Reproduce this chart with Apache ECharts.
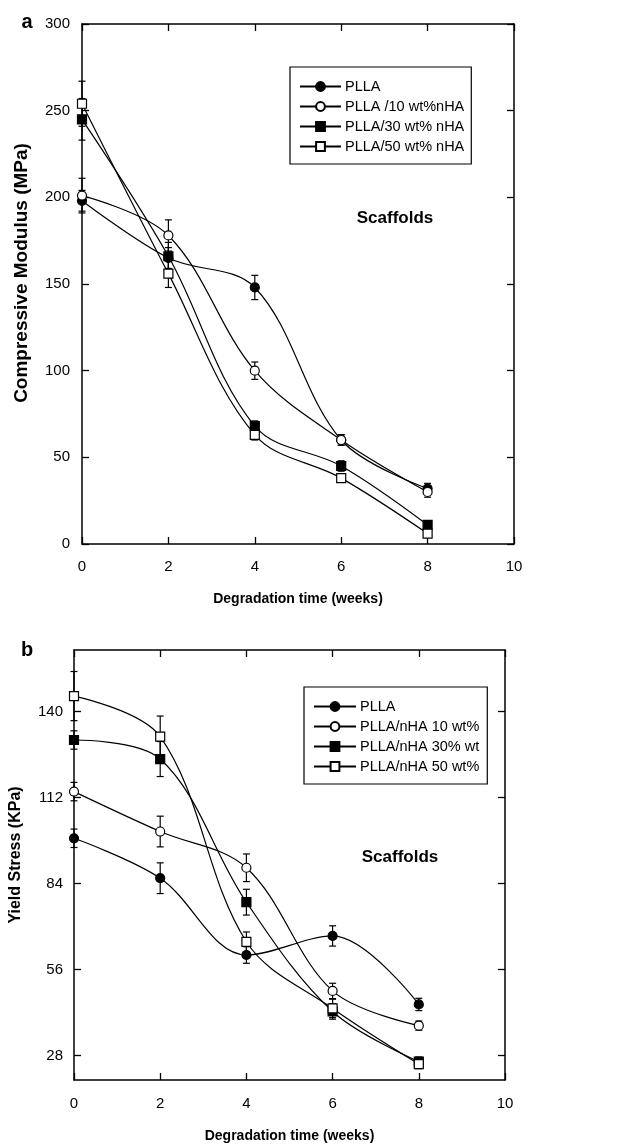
<!DOCTYPE html>
<html>
<head>
<meta charset="utf-8">
<script src="https://cdn.jsdelivr.net/npm/echarts@6/dist/echarts.min.js"></script>
<style>
html,body{margin:0;padding:0;background:#fff;}
#chart{width:630px;height:1144px;}
</style>
</head>
<body>
<div id="chart"></div>
<script>
// ---------- data ----------
const weeks = [0, 2, 4, 6, 8];
const xTicks = [0, 2, 4, 6, 8, 10];

// Panel a: compressive modulus (MPa)
const namesA = ['PLLA', 'PLLA /10 wt%nHA', 'PLLA/30 wt% nHA', 'PLLA/50 wt% nHA'];
const modPLLA   = [198, 165, 148, 60, 32];
const modPLLA10 = [201, 178, 100, 60, 30];
const modPLLA30 = [245, 166, 68, 45, 11];
const modPLLA50 = [254, 156, 63, 38, 6];
const modErrPLLA   = [6, 6, 7, 3, 3];
const modErrPLLA10 = [10, 9, 5, 3, 3];
const modErrPLLA30 = [12, 8, 3, 3, 2];
const modErrPLLA50 = [13, 8, 3, 2, 2];
const modTicks = [0, 50, 100, 150, 200, 250, 300];

// Panel b: yield stress (KPa)
const namesB = ['PLLA', 'PLLA/nHA 10 wt%', 'PLLA/nHA 30% wt', 'PLLA/nHA 50 wt%'];
const ysPLLA   = [98.7, 85.7, 60.7, 66.9, 44.6];
const ysPLLA10 = [113.9, 100.9, 89.1, 49, 37.7];
const ysPLLA30 = [130.7, 124.5, 77.9, 42.3, 26];
const ysPLLA50 = [145, 131.8, 65, 43.3, 25.2];
const ysErrPLLA   = [3, 5, 2.7, 3.3, 2];
const ysErrPLLA10 = [3, 5, 4.5, 2.5, 1.5];
const ysErrPLLA30 = [3, 5.7, 4.2, 2.5, 1.5];
const ysErrPLLA50 = [8, 6.7, 3.2, 3, 1.5];
const ysTicks = [28, 56, 84, 112, 140];

// ---------- styles ----------
const FONT = '"Liberation Sans", Arial, sans-serif';
const markerStyles = [
  {symbol: 'circle', fill: '#000', size: 9},
  {symbol: 'circle', fill: '#fff', size: 9},
  {symbol: 'rect', fill: '#000', size: 9},
  {symbol: 'rect', fill: '#fff', size: 9}
];

function lineSeries(name, vals, idx, k) {
  const m = markerStyles[k];
  return {
    type: 'line', name: name, xAxisIndex: idx * 2, yAxisIndex: idx * 2,
    data: weeks.map((w, i) => [w, vals[i]]),
    smooth: 0.35, symbol: m.symbol, symbolSize: m.size, showSymbol: true,
    lineStyle: {color: '#000', width: 1.2},
    itemStyle: {color: m.fill, borderColor: '#000', borderWidth: 1.2},
    z: 3, silent: true
  };
}

function errRender(params, api) {
  const x = api.value(0), y = api.value(1), e = api.value(2);
  const t = api.coord([x, y + e]);
  const b = api.coord([x, y - e]);
  const hw = 3.5;
  const st = {stroke: '#000', lineWidth: 1.2};
  return {type: 'group', children: [
    {type: 'line', shape: {x1: t[0], y1: t[1], x2: b[0], y2: b[1]}, style: st},
    {type: 'line', shape: {x1: t[0] - hw, y1: t[1], x2: t[0] + hw, y2: t[1]}, style: st},
    {type: 'line', shape: {x1: b[0] - hw, y1: b[1], x2: b[0] + hw, y2: b[1]}, style: st}
  ]};
}

function errSeries(vals, errs, idx) {
  return {
    type: 'custom', xAxisIndex: idx * 2, yAxisIndex: idx * 2,
    renderItem: errRender, encode: {x: 0, y: 1},
    data: weeks.map((w, i) => [w, vals[i], errs[i]]),
    z: 2, silent: true, clip: false
  };
}

function axisLine() { return {show: true, onZero: false, lineStyle: {color: '#000', width: 1.5}}; }
function tick(extra) { return Object.assign({show: true, inside: true, length: 7, lineStyle: {color: '#000', width: 1.3}}, extra || {}); }
function label(extra) { return Object.assign({color: '#000', fontSize: 15, fontFamily: FONT}, extra || {}); }

function xAxes(gridIndex, margin, nameGap) {
  return [
    {type: 'value', gridIndex: gridIndex, position: 'bottom', min: 0, max: 10, interval: 2,
     axisLine: axisLine(), axisTick: tick(), splitLine: {show: false},
     axisLabel: label({margin: margin}),
     name: 'Degradation time (weeks)', nameLocation: 'middle', nameGap: nameGap,
     nameTextStyle: {color: '#000', fontSize: 14, fontWeight: 'bold', fontFamily: FONT}},
    {type: 'value', gridIndex: gridIndex, position: 'top', min: 0, max: 10, interval: 2,
     axisLine: axisLine(), axisTick: tick(), splitLine: {show: false},
     axisLabel: {show: false}}
  ];
}

const option = {
  backgroundColor: '#fff',
  animation: false,
  grid: [
    {left: 82, top: 24, width: 432, height: 520},
    {left: 73, top: 650, width: 432, height: 430}
  ],
  xAxis: [].concat(xAxes(0, 15, 48), xAxes(1, 16, 49)),
  yAxis: [
    {type: 'value', gridIndex: 0, position: 'left', min: 0, max: 300, interval: 50,
     axisLine: axisLine(), axisTick: tick(), splitLine: {show: false},
     axisLabel: label({margin: 12}),
     name: 'Compressive Modulus (MPa)', nameLocation: 'middle', nameGap: 51,
     nameTextStyle: {color: '#000', fontSize: 19, fontWeight: 'bold', fontFamily: FONT, padding: [0, 0, 0, 22]}},
    {type: 'value', gridIndex: 0, position: 'right', min: 0, max: 300, interval: 50,
     axisLine: axisLine(), axisTick: tick(), splitLine: {show: false},
     axisLabel: {show: false}},
    {type: 'value', gridIndex: 1, position: 'left', min: 20, max: 160,
     axisLine: axisLine(), axisTick: tick({customValues: ysTicks}),
     splitLine: {show: false},
     axisLabel: label({margin: 11, customValues: ysTicks}),
     name: 'Yield Stress (KPa)', nameLocation: 'middle', nameGap: 50,
     nameTextStyle: {color: '#000', fontSize: 16, fontWeight: 'bold', fontFamily: FONT, padding: [0, 0, 0, 20]}},
    {type: 'value', gridIndex: 1, position: 'right', min: 20, max: 160,
     axisLine: axisLine(), axisTick: tick({customValues: ysTicks}),
     splitLine: {show: false},
     axisLabel: {show: false, customValues: ysTicks}}
  ],
  legend: [
    {data: namesA, orient: 'vertical', left: 290, top: 67, itemWidth: 41, itemHeight: 11, itemGap: 5,
     padding: [12, 7, 10, 9], borderColor: '#000', borderWidth: 1.2, backgroundColor: '#fff',
     textStyle: {color: '#000', fontSize: 14.5, fontFamily: FONT, padding: [0, 0, 0, -1]},
     selectedMode: false},
    {data: namesB, orient: 'vertical', left: 304, top: 687, itemWidth: 42, itemHeight: 11, itemGap: 5,
     padding: [12, 8, 10, 9], borderColor: '#000', borderWidth: 1.2, backgroundColor: '#fff',
     textStyle: {color: '#000', fontSize: 14.5, fontFamily: FONT, padding: [0, 0, 0, -1]},
     selectedMode: false}
  ],
  graphic: [
    {type: 'text', x: 27, y: 22, style: {text: 'a', font: 'bold 20px ' + FONT, fill: '#000', textAlign: 'center', textVerticalAlign: 'middle'}},
    {type: 'text', x: 27, y: 650, style: {text: 'b', font: 'bold 20px ' + FONT, fill: '#000', textAlign: 'center', textVerticalAlign: 'middle'}},
    {type: 'text', x: 395, y: 218, style: {text: 'Scaffolds', font: 'bold 17px ' + FONT, fill: '#000', textAlign: 'center', textVerticalAlign: 'middle'}},
    {type: 'text', x: 400, y: 857, style: {text: 'Scaffolds', font: 'bold 17px ' + FONT, fill: '#000', textAlign: 'center', textVerticalAlign: 'middle'}}
  ],
  series: [
    errSeries(modPLLA, modErrPLLA, 0),
    errSeries(modPLLA10, modErrPLLA10, 0),
    errSeries(modPLLA30, modErrPLLA30, 0),
    errSeries(modPLLA50, modErrPLLA50, 0),
    lineSeries(namesA[0], modPLLA, 0, 0),
    lineSeries(namesA[1], modPLLA10, 0, 1),
    lineSeries(namesA[2], modPLLA30, 0, 2),
    lineSeries(namesA[3], modPLLA50, 0, 3),
    errSeries(ysPLLA, ysErrPLLA, 1),
    errSeries(ysPLLA10, ysErrPLLA10, 1),
    errSeries(ysPLLA30, ysErrPLLA30, 1),
    errSeries(ysPLLA50, ysErrPLLA50, 1),
    lineSeries(namesB[0], ysPLLA, 1, 0),
    lineSeries(namesB[1], ysPLLA10, 1, 1),
    lineSeries(namesB[2], ysPLLA30, 1, 2),
    lineSeries(namesB[3], ysPLLA50, 1, 3)
  ]
};

const chart = echarts.init(document.getElementById('chart'), null, {renderer: 'canvas'});
chart.setOption(option);
</script>
</body>
</html>
